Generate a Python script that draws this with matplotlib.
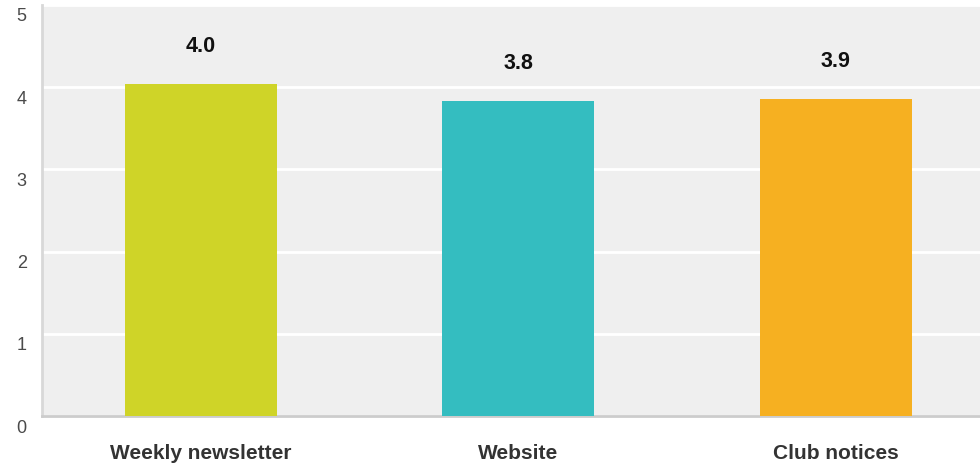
import matplotlib
matplotlib.use('Agg')
import matplotlib.pyplot as plt
from matplotlib.transforms import ScaledTranslation

# average rating per communication channel
channels = ['Weekly newsletter', 'Website', 'Club notices']
ratings = [4.04, 3.83, 3.86]
colors = ['#cfd428', '#34bdc0', '#f6b021']

plt.rcParams['font.family'] = ['Liberation Sans', 'DejaVu Sans']

fig = plt.figure(figsize=(9.8, 4.65), dpi=100)
ax = fig.add_axes([42 / 980, 49 / 465, 938 / 980, 411 / 465])
ax.set_facecolor('#efefef')

x = range(len(channels))
ax.bar(x, ratings, width=0.479, color=colors, zorder=3)

for i, v in enumerate(ratings):
    ax.annotate('%.1f' % v, (i, v), xytext=(0, 27), textcoords='offset points',
                ha='center', va='center', fontsize=15.5, fontweight='bold', color='#111111')

ax.set_xlim(-0.5, 2.454)
ax.set_ylim(0, 5)
ax.set_yticks(range(6))
ax.yaxis.grid(True, color='white', linewidth=2, zorder=1)

ax.set_xticks(list(x))
ax.set_xticklabels(channels, fontsize=15, fontweight='bold', color='#333333')
ax.tick_params(axis='x', length=0, pad=20)
ax.tick_params(axis='y', length=0, pad=11, labelsize=13, labelcolor='#4a4a4a')

# push the y labels a little below their gridlines
for lbl in ax.get_yticklabels():
    lbl.set_transform(lbl.get_transform() + ScaledTranslation(0, -0.10, fig.dpi_scale_trans))

for side in ['top', 'right']:
    ax.spines[side].set_visible(False)
ax.spines['left'].set_color('#d8d8d8')
ax.spines['left'].set_linewidth(2)
ax.spines['bottom'].set_color('#cccccc')
ax.spines['bottom'].set_linewidth(2)

fig.savefig('out.png', dpi=100, facecolor='white')
